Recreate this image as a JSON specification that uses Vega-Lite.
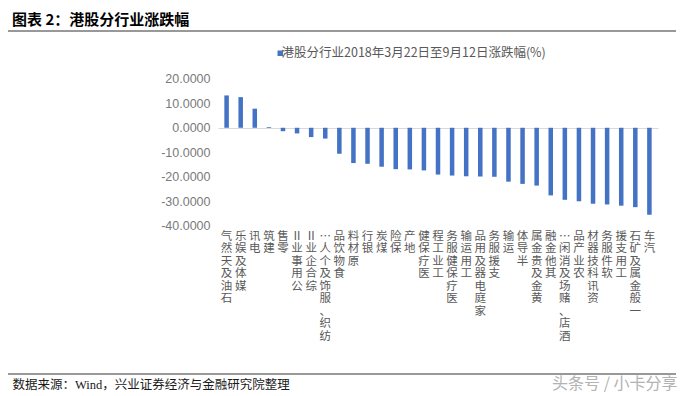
{
  "$schema": "https://vega.github.io/schema/vega-lite/v6.json",
  "width": 668,
  "height": 343,
  "autosize": {"type": "none"},
  "padding": {"left": 8, "top": 31, "right": 8, "bottom": 22},
  "background": "white",
  "title": {
    "text": "图表 2：港股分行业涨跌幅",
    "anchor": "start",
    "frame": "group",
    "orient": "top",
    "offset": 5,
    "baseline": "alphabetic",
    "dx": 4,
    "dy": 14,
    "font": "Noto Sans CJK SC",
    "fontSize": 15,
    "fontWeight": "bold",
    "color": "#000000"
  },
  "config": {
    "view": {"stroke": null},
    "axis": {"grid": false, "ticks": false, "domain": false}
  },
  "datasets": {
    "rows": [
      {"industry": "石油及天然气", "change": 13.2, "series": "港股分行业2018年3月22日至9月12日涨跌幅(%)"},
      {"industry": "媒体及娱乐", "change": 12.5, "series": "港股分行业2018年3月22日至9月12日涨跌幅(%)"},
      {"industry": "电讯", "change": 7.8, "series": "港股分行业2018年3月22日至9月12日涨跌幅(%)"},
      {"industry": "建筑", "change": 0.3, "series": "港股分行业2018年3月22日至9月12日涨跌幅(%)"},
      {"industry": "零售", "change": -1.4, "series": "港股分行业2018年3月22日至9月12日涨跌幅(%)"},
      {"industry": "公用事业Ⅱ", "change": -2.3, "series": "港股分行业2018年3月22日至9月12日涨跌幅(%)"},
      {"industry": "综合企业Ⅱ", "change": -3.8, "series": "港股分行业2018年3月22日至9月12日涨跌幅(%)"},
      {"industry": "纺织、服饰及个人…", "change": -4.4, "series": "港股分行业2018年3月22日至9月12日涨跌幅(%)"},
      {"industry": "食物饮品", "change": -10.6, "series": "港股分行业2018年3月22日至9月12日涨跌幅(%)"},
      {"industry": "原材料", "change": -14.4, "series": "港股分行业2018年3月22日至9月12日涨跌幅(%)"},
      {"industry": "银行", "change": -14.7, "series": "港股分行业2018年3月22日至9月12日涨跌幅(%)"},
      {"industry": "煤炭", "change": -15.9, "series": "港股分行业2018年3月22日至9月12日涨跌幅(%)"},
      {"industry": "保险", "change": -16.9, "series": "港股分行业2018年3月22日至9月12日涨跌幅(%)"},
      {"industry": "地产", "change": -17.0, "series": "港股分行业2018年3月22日至9月12日涨跌幅(%)"},
      {"industry": "医疗保健", "change": -17.4, "series": "港股分行业2018年3月22日至9月12日涨跌幅(%)"},
      {"industry": "工业工程", "change": -19.1, "series": "港股分行业2018年3月22日至9月12日涨跌幅(%)"},
      {"industry": "医疗保健服务", "change": -19.5, "series": "港股分行业2018年3月22日至9月12日涨跌幅(%)"},
      {"industry": "工用运输", "change": -19.8, "series": "港股分行业2018年3月22日至9月12日涨跌幅(%)"},
      {"industry": "家庭电器及用品", "change": -19.9, "series": "港股分行业2018年3月22日至9月12日涨跌幅(%)"},
      {"industry": "支援服务", "change": -20.0, "series": "港股分行业2018年3月22日至9月12日涨跌幅(%)"},
      {"industry": "运输", "change": -22.0, "series": "港股分行业2018年3月22日至9月12日涨跌幅(%)"},
      {"industry": "半导体", "change": -22.9, "series": "港股分行业2018年3月22日至9月12日涨跌幅(%)"},
      {"industry": "黄金及贵金属", "change": -23.6, "series": "港股分行业2018年3月22日至9月12日涨跌幅(%)"},
      {"industry": "其他金融", "change": -27.6, "series": "港股分行业2018年3月22日至9月12日涨跌幅(%)"},
      {"industry": "酒店、赌场及消闲…", "change": -29.4, "series": "港股分行业2018年3月22日至9月12日涨跌幅(%)"},
      {"industry": "农业产品", "change": -30.0, "series": "港股分行业2018年3月22日至9月12日涨跌幅(%)"},
      {"industry": "资讯科技器材", "change": -31.0, "series": "港股分行业2018年3月22日至9月12日涨跌幅(%)"},
      {"industry": "软件服务", "change": -31.3, "series": "港股分行业2018年3月22日至9月12日涨跌幅(%)"},
      {"industry": "工用支援", "change": -31.8, "series": "港股分行业2018年3月22日至9月12日涨跌幅(%)"},
      {"industry": "一般金属及矿石", "change": -32.4, "series": "港股分行业2018年3月22日至9月12日涨跌幅(%)"},
      {"industry": "汽车", "change": -35.5, "series": "港股分行业2018年3月22日至9月12日涨跌幅(%)"}
    ]
  },
  "layer": [
    {
      "data": {"name": "rows"},
      "mark": {"type": "bar", "color": "#4472C4"},
      "encoding": {
        "x": {
          "field": "industry",
          "type": "nominal",
          "sort": null,
          "scale": {"range": [210, 650], "paddingInner": 0.68, "paddingOuter": 0.45},
          "axis": {
            "orient": "bottom",
            "offset": -144,
            "labelPadding": 0,
            "labelAngle": 0,
            "labelAlign": "center",
            "labelBaseline": "top",
            "labelExpr": "reverse(split(datum.label, ''))",
            "labelLineHeight": 12.5,
            "labelFont": "Noto Sans CJK SC",
            "labelFontSize": 11.5,
            "labelColor": "#595959",
            "labelOverlap": false,
            "labelBound": false,
            "labelFlush": false,
            "title": "数据来源：Wind，兴业证券经济与金融研究院整理",
            "titleX": 4,
            "titleY": 158,
            "titleAlign": "left",
            "titleAngle": 0,
            "titleBaseline": "alphabetic",
            "titleFont": "Liberation Serif, Noto Sans CJK SC",
            "titleFontSize": 12.5,
            "titleFontWeight": "normal",
            "titleColor": "#1a1a1a"
          }
        },
        "y": {
          "field": "change",
          "type": "quantitative",
          "scale": {"domain": [-100.5, 39.5], "nice": false, "zero": false},
          "axis": {
            "orient": "left",
            "offset": -204,
            "values": [20, 10, 0, -10, -20, -30, -40],
            "labelExpr": "replace(format(datum.value, '.4f'), '−', '-')",
            "labelPadding": 2,
            "labelFont": "Liberation Sans",
            "labelFontSize": 12.5,
            "labelColor": "#7a7a7a",
            "title": null
          }
        },
        "y2": {"datum": 0},
        "color": {
          "field": "series",
          "type": "nominal",
          "scale": {"range": ["#4472C4"]},
          "legend": {
            "orient": "none",
            "legendX": 266,
            "legendY": 16,
            "title": null,
            "symbolType": "square",
            "symbolSize": 30,
            "symbolStrokeWidth": 0,
            "labelFont": "Noto Sans CJK SC",
            "labelFontSize": 12.5,
            "labelColor": "#595959",
            "labelOffset": -5,
            "labelLimit": 400,
            "padding": 0
          }
        }
      }
    },
    {
      "data": {"values": [{}]},
      "mark": {"type": "point", "opacity": 0},
      "encoding": {
        "x": {
          "datum": "石油及天然气",
          "type": "nominal",
          "axis": {
            "orient": "top",
            "offset": -97,
            "domain": true,
            "domainColor": "#d9d9d9",
            "domainWidth": 1,
            "labels": false,
            "ticks": false,
            "title": null
          }
        },
        "y": {"datum": 0, "type": "quantitative", "axis": null}
      }
    },
    {
      "data": {"values": [{}]},
      "mark": {"type": "rule", "color": "#333333", "strokeWidth": 1},
      "encoding": {
        "y": {"datum": 39.5, "type": "quantitative", "axis": null}
      }
    },
    {
      "data": {"values": [{}]},
      "mark": {"type": "rule", "color": "#333333", "strokeWidth": 1},
      "encoding": {
        "y": {
          "datum": -100.5,
          "type": "quantitative",
          "axis": {
            "orient": "right",
            "labels": false,
            "title": "头条号 / 小卡分享",
            "titleAngle": 0,
            "titleX": 1,
            "titleY": 357,
            "titleAlign": "right",
            "titleBaseline": "alphabetic",
            "titleFont": "Noto Sans CJK SC",
            "titleFontSize": 16,
            "titleFontWeight": "normal",
            "titleColor": "#b3b3b3"
          }
        }
      }
    }
  ],
  "resolve": {"axis": {"x": "independent", "y": "independent"}}
}
